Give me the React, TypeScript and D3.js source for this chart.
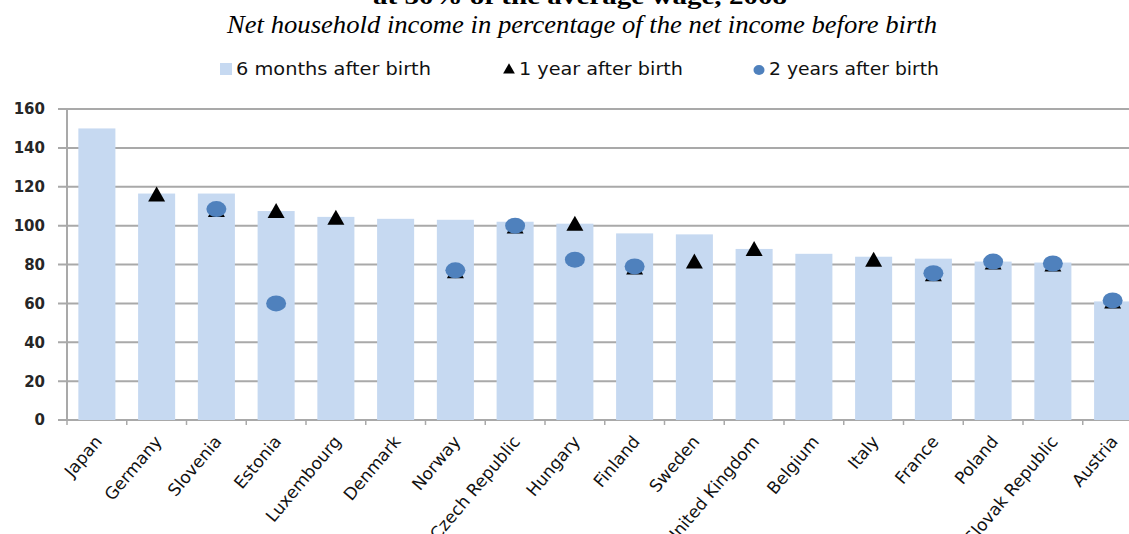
import { useEffect, useRef } from 'react';
import * as d3 from 'd3';

// Chart data
const countries: string[] = [
	'Japan', 'Germany', 'Slovenia', 'Estonia', 'Luxembourg', 'Denmark', 'Norway', 'Czech Republic', 'Hungary',
	'Finland', 'Sweden', 'United Kingdom', 'Belgium', 'Italy', 'France', 'Poland', 'Slovak Republic', 'Austria'
];
const sixMonths: number[] = [150, 116.5, 116.5, 107.5, 104.5, 103.5, 103, 102, 101, 96, 95.5, 88, 85.5, 84, 83, 81.5, 81, 61];
const oneYear: (number | null)[] = [null, 116, 108, 107.5, 104, null, 76.5, 99.5, 101, 78.5, 81.5, 88, null, 82.5, 75, 81, 80, 61];
const twoYears: (number | null)[] = [null, null, 108.5, 60, null, null, 77, 100, 82.5, 79, null, null, null, null, 75.5, 81.5, 80.5, 61.5];
const yTicks: number[] = [0, 20, 40, 60, 80, 100, 120, 140, 160];

const legendItems = [
	{ label: '6 months after birth', kind: 'bar' },
	{ label: '1 year after birth', kind: 'triangle' },
	{ label: '2 years after birth', kind: 'circle' }
];

const W = 1129;
const H = 534;
const BAR = '#c6d9f1';
const DOT = '#4f81bd';
const GRID = '#a9a9a9';

function App() {
	const ref = useRef<SVGSVGElement>(null);

	useEffect(() => {
		const svg = d3.select(ref.current);
		svg.selectAll('*').remove();

		const left = 67;
		const step = 59.75;
		const x = d3
			.scaleBand<string>()
			.domain(countries)
			.range([left, left + step * countries.length])
			.paddingInner(0.38)
			.paddingOuter(0.19);
		const y = d3.scaleLinear().domain([0, 160]).range([420, 109]);

		// titles (first line is cut by the top edge, as in the source)
		svg.append('text')
			.attr('x', 580)
			.attr('y', 4)
			.attr('text-anchor', 'middle')
			.style('font-family', '"Liberation Serif", serif')
			.style('font-weight', 'bold')
			.style('font-size', '24px')
			.attr('textLength', 414)
			.attr('lengthAdjust', 'spacingAndGlyphs')
			.text('at 50% of the average wage, 2008');

		svg.append('text')
			.attr('x', 582)
			.attr('y', 33)
			.attr('text-anchor', 'middle')
			.style('font-family', '"Liberation Serif", serif')
			.style('font-style', 'italic')
			.style('font-size', '26px')
			.attr('textLength', 710)
			.attr('lengthAdjust', 'spacingAndGlyphs')
			.text('Net household income in percentage of the net income before birth');

		// legend
		const legendX = [220, 503, 753];
		const legendW = [195, 164, 170];
		const lg = svg.append('g');
		legendItems.forEach((d, i) => {
			const gx = legendX[i];
			if (d.kind === 'bar') {
				lg.append('rect').attr('x', gx).attr('y', 63).attr('width', 12).attr('height', 12).attr('fill', BAR);
			} else if (d.kind === 'triangle') {
				lg.append('path')
					.attr('d', d3.symbol(d3.symbolTriangle, 60)())
					.attr('transform', `translate(${gx + 6},${70})`)
					.attr('fill', '#000');
			} else {
				lg.append('ellipse').attr('cx', gx + 6).attr('cy', 70).attr('rx', 5.5).attr('ry', 5).attr('fill', DOT);
			}
			lg.append('text')
				.attr('x', gx + 16)
				.attr('y', 75)
				.style('font-family', '"DejaVu Sans", sans-serif')
				.style('font-size', '17px')
				.attr('fill', '#111')
				.attr('textLength', legendW[i])
				.attr('lengthAdjust', 'spacingAndGlyphs')
				.text(d.label);
		});

		// grid and y axis
		const grid = svg.append('g');
		yTicks.forEach((t) => {
			grid.append('line')
				.attr('x1', left - 9)
				.attr('x2', W)
				.attr('y1', y(t))
				.attr('y2', y(t))
				.attr('stroke', GRID)
				.attr('stroke-width', 2);
			grid.append('text')
				.attr('x', 45)
				.attr('y', y(t))
				.attr('dy', '0.36em')
				.attr('text-anchor', 'end')
				.style('font-family', '"DejaVu Sans", sans-serif')
				.style('font-size', '15px')
				.style('font-weight', 'bold')
				.attr('fill', '#262626')
				.text(t);
		});
		grid.append('line')
			.attr('x1', left)
			.attr('x2', left)
			.attr('y1', y(160))
			.attr('y2', y(0) + 1)
			.attr('stroke', GRID)
			.attr('stroke-width', 2);

		// category ticks
		d3.range(countries.length + 1).forEach((k) => {
			grid.append('line')
				.attr('x1', left + k * step)
				.attr('x2', left + k * step)
				.attr('y1', y(0))
				.attr('y2', y(0) + 5)
				.attr('stroke', GRID)
				.attr('stroke-width', 1.5);
		});

		// bars
		svg.append('g')
			.selectAll('rect')
			.data(countries)
			.enter()
			.append('rect')
			.attr('x', (d) => x(d) as number)
			.attr('width', x.bandwidth())
			.attr('y', (d, i) => y(sixMonths[i]))
			.attr('height', (d, i) => y(0) - y(sixMonths[i]))
			.attr('fill', BAR);

		const cx = (i: number) => (x(countries[i]) as number) + x.bandwidth() / 2;

		// 1 year markers
		svg.append('g')
			.selectAll('path')
			.data(oneYear.map((v, i) => ({ v, i })).filter((d) => d.v !== null))
			.enter()
			.append('path')
			.attr('d', 'M0,-8L8.5,7L-8.5,7Z')
			.attr('transform', (d) => `translate(${cx(d.i)},${y(d.v as number)})`)
			.attr('fill', '#000');

		// 2 year markers
		svg.append('g')
			.selectAll('ellipse')
			.data(twoYears.map((v, i) => ({ v, i })).filter((d) => d.v !== null))
			.enter()
			.append('ellipse')
			.attr('cx', (d) => cx(d.i))
			.attr('cy', (d) => y(d.v as number))
			.attr('rx', 10)
			.attr('ry', 8)
			.attr('fill', DOT);

		// x labels
		svg.append('g')
			.selectAll('text')
			.data(countries)
			.enter()
			.append('text')
			.attr('text-anchor', 'end')
			.attr('transform', (d, i) => `translate(${cx(i) + 6},${442}) rotate(-50)`)
			.style('font-family', '"DejaVu Sans", sans-serif')
			.style('font-size', '17px')
			.attr('fill', '#111')
			.text((d) => d);
	}, []);

	return (
		<svg
			ref={ref}
			width={W}
			height={H}
			style={{ position: 'absolute', left: 0, top: 0, background: '#fff' }}
		/>
	);
}

export default App;
